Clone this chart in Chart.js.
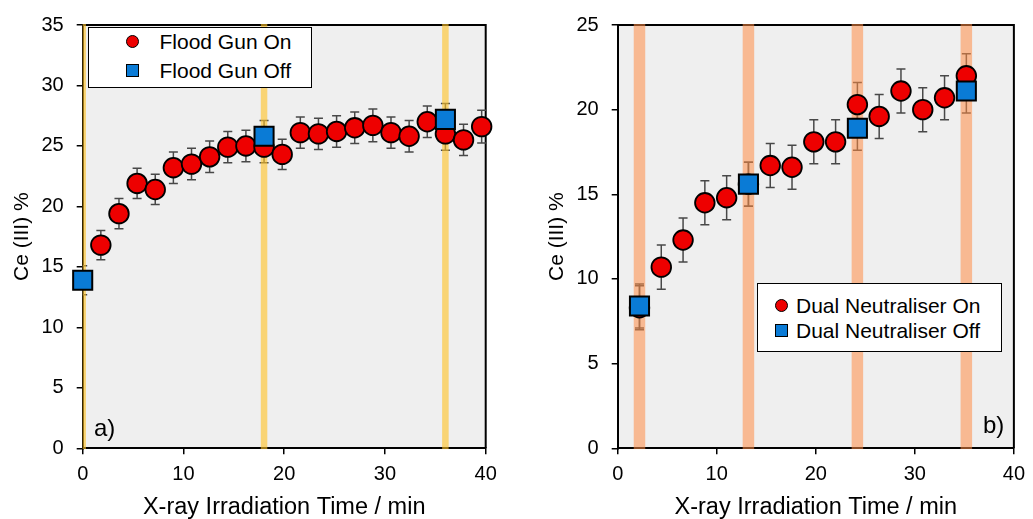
<!DOCTYPE html>
<html lang="en">
<head>
<meta charset="UTF-8">
<title>Ce (III) % vs X-ray Irradiation Time</title>
<script src="https://cdn.jsdelivr.net/npm/chart.js"></script>
<style>
  body { margin: 0; background: #fff; font-family: "Liberation Sans", Arial, sans-serif; }
  canvas { position: absolute; top: 0; }
  #chartA { left: 0; }
  #chartB { left: 516px; }
  .legend { position: absolute; background: #fff; border: 1.5px solid #000; box-sizing: border-box; font-size: 21px; color: #000; }
  .legend span { position: absolute; white-space: nowrap; line-height: 24px; }
  .legend i { position: absolute; box-sizing: border-box; border: 1.5px solid #000; }
  .dot { background: #ee0000; border-radius: 50%; }
  .sq { background: #0a7bd6; }
  .tag { position: absolute; font-size: 24px; line-height: 24px; color: #000; }
</style>
</head>
<body>
<canvas id="chartA" width="516" height="519"></canvas>
<canvas id="chartB" width="517" height="519"></canvas>

<div class="legend" style="left:88px; top:27px; width:224px; height:61px;">
  <i class="dot" style="left:36.5px; top:7px; width:13px; height:13px;"></i>
  <span style="left:70.5px; top:1.5px;">Flood Gun On</span>
  <i class="sq" style="left:37px; top:36px; width:12.5px; height:12.5px;"></i>
  <span style="left:70.5px; top:30.5px;">Flood Gun Off</span>
</div>
<div class="legend" style="left:757px; top:283px; width:245px; height:69px;">
  <i class="dot" style="left:16.5px; top:14.5px; width:13.5px; height:13.5px;"></i>
  <span style="left:38px; top:9.5px;">Dual Neutraliser On</span>
  <i class="sq" style="left:17px; top:40px; width:13px; height:13px;"></i>
  <span style="left:38px; top:34.5px;">Dual Neutraliser Off</span>
</div>
<div class="tag" style="left:94px; top:416px;">a)</div>
<div class="tag" style="left:983px; top:413px;">b)</div>

<script>
// panel a) flood gun
const timeOnA = [1.8, 3.6, 5.4, 7.2, 9.0, 10.8, 12.6, 14.4, 16.2, 18.0, 19.8, 21.6, 23.4, 25.2, 27.0, 28.8, 30.6, 32.4, 34.2, 36.0, 37.8, 39.6];
const ceOnA = [16.8, 19.4, 21.9, 21.4, 23.2, 23.5, 24.1, 24.9, 25.0, 24.9, 24.3, 26.1, 26.0, 26.2, 26.5, 26.7, 26.1, 25.8, 27.0, 26.0, 25.5, 26.6];
const errOnA = [1.2, 1.25, 1.25, 1.25, 1.3, 1.3, 1.3, 1.3, 1.3, 1.3, 1.25, 1.3, 1.3, 1.3, 1.3, 1.35, 1.3, 1.3, 1.3, 1.35, 1.3, 1.35];
const timeOffA = [0, 18, 36];
const ceOffA = [13.9, 25.8, 27.2];
const errOffA = [1.2, 1.3, 1.3];
const bandsA = [0, 18, 36];

// panel b) dual neutraliser
const timeOnB = [2.2, 4.4, 6.6, 8.8, 11.0, 13.2, 15.4, 17.6, 19.8, 22.0, 24.2, 26.4, 28.6, 30.8, 33.0, 35.2];
const ceOnB = [8.3, 10.7, 12.3, 14.5, 14.8, 15.6, 16.7, 16.6, 18.1, 18.1, 20.3, 19.6, 21.1, 20.0, 20.7, 22.0];
const errOnB = [1.3, 1.3, 1.3, 1.3, 1.3, 1.3, 1.3, 1.3, 1.3, 1.3, 1.3, 1.3, 1.3, 1.3, 1.3, 1.3];
const timeOffB = [2.2, 13.2, 24.2, 35.2];
const ceOffB = [8.4, 15.6, 18.9, 21.1];
const errOffB = [1.3, 1.3, 1.3, 1.3];
const bandsB = [2.2, 13.2, 24.2, 35.2];

const xMax = 40, xStep = 10;
const yMaxA = 35, yMaxB = 25, yStep = 5;

const fam = '"Liberation Sans", Arial, sans-serif';

function pts(xs, ys) {
    return xs.map(function (t, i) { return { x: t, y: ys[i] }; });
}

// plot background, frame, error bars and the shaded bands
const panelDecor = {
    id: 'panelDecor',
    beforeDraw(chart) {
        const a = chart.chartArea, ctx = chart.ctx;
        ctx.save();
        ctx.fillStyle = '#efefef';
        ctx.fillRect(a.left, a.top, a.width, a.height);
        ctx.restore();
    },
    beforeDatasetsDraw(chart, args, o) {
        const ctx = chart.ctx, a = chart.chartArea;
        const x = chart.scales.x, y = chart.scales.y;
        ctx.save();
        ctx.strokeStyle = '#000';
        ctx.lineWidth = 2;
        ctx.beginPath();
        ctx.moveTo(a.left, a.top);
        ctx.lineTo(a.right, a.top);
        ctx.lineTo(a.right, a.bottom);
        ctx.stroke();

        ctx.beginPath();
        ctx.rect(a.left, a.top - 1, a.width + 1, a.height + 2);
        ctx.clip();

        ctx.strokeStyle = '#484848';
        ctx.lineWidth = 1.5;
        chart.data.datasets.forEach(function (ds) {
            ds.data.forEach(function (p, i) {
                const px = x.getPixelForValue(p.x);
                const hi = y.getPixelForValue(p.y + ds.err[i]);
                const lo = y.getPixelForValue(p.y - ds.err[i]);
                ctx.beginPath();
                ctx.moveTo(px, hi); ctx.lineTo(px, lo);
                ctx.moveTo(px - 4.5, hi); ctx.lineTo(px + 4.5, hi);
                ctx.moveTo(px - 4.5, lo); ctx.lineTo(px + 4.5, lo);
                ctx.stroke();
            });
        });

        ctx.fillStyle = o.color;
        o.bands.forEach(function (b) {
            const c = x.getPixelForValue(b);
            ctx.fillRect(c - o.width / 2, a.top - 1, o.width, a.height + 2);
        });
        ctx.restore();
    }
};

function makeChart(id, cfg) {
    const ctx = document.getElementById(id).getContext('2d');
    return new Chart(ctx, {
        type: 'scatter',
        data: {
            datasets: [{
                label: cfg.offLabel,
                data: pts(cfg.offX, cfg.offY),
                err: cfg.offErr,
                pointStyle: 'rect',
                pointRadius: 13.5,
                backgroundColor: '#0a7bd6',
                borderColor: '#000',
                borderWidth: 2,
                clip: false,
                order: 1
            }, {
                label: cfg.onLabel,
                data: pts(cfg.onX, cfg.onY),
                err: cfg.onErr,
                pointStyle: 'circle',
                pointRadius: 9.8,
                backgroundColor: '#ee0000',
                borderColor: '#000',
                borderWidth: 1.8,
                clip: false,
                order: 2
            }]
        },
        options: {
            responsive: false,
            devicePixelRatio: 1,
            animation: false,
            events: [],
            layout: { padding: { left: 0, top: 20.7, right: cfg.padRight, bottom: 0 } },
            scales: {
                x: {
                    type: 'linear', min: 0, max: xMax,
                    ticks: { stepSize: xStep, color: '#000', padding: 8, maxRotation: 0, font: { size: 20, family: fam } },
                    grid: { drawOnChartArea: false, tickLength: 6, color: '#000', lineWidth: 1.5 },
                    border: { color: '#000', width: 2 },
                    title: { display: true, text: 'X-ray Irradiation Time / min', color: '#000', font: { size: 23.5, family: fam, lineHeight: 1 }, padding: { top: 0, bottom: 0 } },
                    afterFit(s) { s.height = 70.7; }
                },
                y: {
                    min: 0, max: cfg.yMax,
                    ticks: { stepSize: yStep, color: '#000', padding: 13, font: { size: 20, family: fam } },
                    grid: { drawOnChartArea: false, tickLength: 6, color: '#000', lineWidth: 1.5 },
                    border: { color: '#000', width: 2 },
                    title: { display: true, text: 'Ce (III) %', color: '#000', font: { size: 21, family: fam, lineHeight: 1 }, padding: { top: cfg.titlePad, bottom: 0 } },
                    afterFit(s) { s.width = cfg.axisWidth; }
                }
            },
            plugins: {
                legend: { display: false },
                tooltip: { enabled: false },
                panelDecor: { bands: cfg.bands, color: cfg.bandColor, width: cfg.bandWidth }
            }
        },
        plugins: [panelDecor]
    });
}

makeChart('chartA', {
    onLabel: 'Flood Gun On', offLabel: 'Flood Gun Off',
    onX: timeOnA, onY: ceOnA, onErr: errOnA,
    offX: timeOffA, offY: ceOffA, offErr: errOffA,
    bands: bandsA, bandColor: 'rgba(255, 196, 40, 0.62)', bandWidth: 6.5,
    yMax: yMaxA, axisWidth: 82.7, padRight: 30.3, titlePad: 11.5
});

makeChart('chartB', {
    onLabel: 'Dual Neutraliser On', offLabel: 'Dual Neutraliser Off',
    onX: timeOnB, onY: ceOnB, onErr: errOnB,
    offX: timeOffB, offY: ceOffB, offErr: errOffB,
    bands: bandsB, bandColor: 'rgba(255, 140, 70, 0.55)', bandWidth: 11.5,
    yMax: yMaxB, axisWidth: 101.7, padRight: 12, titlePad: 30.5
});
</script>
</body>
</html>
